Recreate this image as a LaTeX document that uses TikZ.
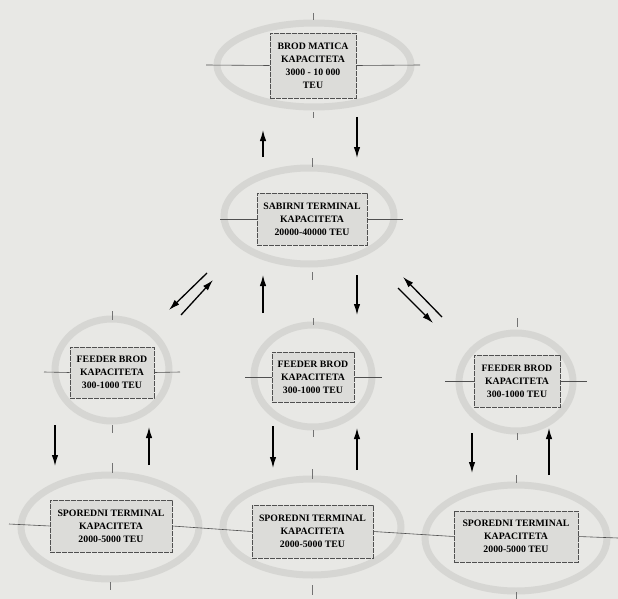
\documentclass[tikz,border=0pt]{standalone}
\usepackage{fontspec}
\setmainfont{Liberation Serif}
\usetikzlibrary{arrows.meta,calc}
\definecolor{bgc}{HTML}{E8E8E5}
\definecolor{ringc}{HTML}{D6D6D3}
\definecolor{boxc}{HTML}{DCDCD9}
\definecolor{linec}{HTML}{505050}
\tikzset{
  ring/.style={draw=ringc,line width=7pt},
  infobox/.style={rectangle,draw=linec,fill=boxc,line width=0.6pt,
    dash pattern=on 5pt off 1pt,inner sep=0pt,align=center,
    font=\fontsize{9.8}{13}\selectfont\bfseries,text=black},
  cross/.style={draw=linec,line width=0.6pt},
  tick/.style={draw=linec!80,line width=0.6pt},
  flow/.style={draw=black,line width=1.3pt,-{Latex[length=11pt,width=6.5pt]}}
}
\begin{document}
\begin{tikzpicture}[x=1pt,y=-1pt]
\fill[bgc] (0,0) rectangle (618,599);
\useasboundingbox (0,0) rectangle (618,599);

% ---------- ellipses (rings) ----------
\draw[ring] (314,65) ellipse [x radius=97,y radius=42];
\draw[ring] (309,216) ellipse [x radius=85,y radius=48];
\draw[ring] (112,370) ellipse [x radius=57,y radius=51];
\draw[ring] (313,376) ellipse [x radius=59,y radius=51];
\draw[ring] (516,382) ellipse [x radius=57,y radius=49];
\draw[ring] (110,527) ellipse [x radius=89,y radius=52];
\draw[ring] (312,527) ellipse [x radius=89,y radius=48];
\draw[ring] (516,538) ellipse [x radius=91,y radius=53];

% ---------- boxes ----------
\node[infobox,minimum width=86pt,minimum height=65pt] (top) at (313,65.5)
  {BROD MATICA\\KAPACITETA\\3000 - 10 000\\TEU};
\node[infobox,minimum width=110pt,minimum height=52pt] (sab) at (312,219)
  {SABIRNI TERMINAL\\KAPACITETA\\20000-40000 TEU};
\node[infobox,minimum width=84pt,minimum height=51pt] (fl) at (112,372.5)
  {FEEDER BROD\\KAPACITETA\\300-1000 TEU};
\node[infobox,minimum width=82pt,minimum height=50pt] (fm) at (313,377)
  {FEEDER BROD\\KAPACITETA\\300-1000 TEU};
\node[infobox,minimum width=86pt,minimum height=52pt] (fr) at (517,381)
  {FEEDER BROD\\KAPACITETA\\300-1000 TEU};
\node[infobox,minimum width=122pt,minimum height=52pt] (sl) at (111,526)
  {SPOREDNI TERMINAL\\KAPACITETA\\2000-5000 TEU};
\node[infobox,minimum width=121pt,minimum height=53pt] (sm) at (312.5,531.5)
  {SPOREDNI TERMINAL\\KAPACITETA\\2000-5000 TEU};
\node[infobox,minimum width=124pt,minimum height=51pt] (sr) at (516,536.5)
  {SPOREDNI TERMINAL\\KAPACITETA\\2000-5000 TEU};

% ---------- cross lines ----------
\coordinate (topL) at (206,65);  \coordinate (topR) at (420,65);
\coordinate (sabL) at (220,219); \coordinate (sabR) at (403,219);
\coordinate (flL) at (44,372);   \coordinate (flR) at (180,372);
\coordinate (fmL) at (245,377);  \coordinate (fmR) at (382,377);
\coordinate (frL) at (445,381);  \coordinate (frR) at (587,381);
\coordinate (slL) at (9,524);    \coordinate (srR) at (618,538);
\draw[cross] (topL) -- (top.west);  \draw[cross] (top.east) -- (topR);
\draw[cross] (sabL) -- (sab.west);  \draw[cross] (sab.east) -- (sabR);
\draw[cross] (flL) -- (fl.west);    \draw[cross] (fl.east) -- (flR);
\draw[cross] (fmL) -- (fm.west);    \draw[cross] (fm.east) -- (fmR);
\draw[cross] (frL) -- (fr.west);    \draw[cross] (fr.east) -- (frR);
\draw[cross] (slL) -- (sl.west);
\draw[cross] (sl.east) -- (sm.west);
\draw[cross] (sm.east) -- (sr.west);
\draw[cross] (sr.east) -- (srR);

% ---------- ticks ----------
\draw[tick] (313,13) -- (313,20);   \draw[tick] (313,112) -- (313,118);
\draw[tick] (312,158) -- (312,167); \draw[tick] (312,272) -- (312,280);
\draw[tick] (112,311) -- (112,320); \draw[tick] (112,425) -- (112,433);
\draw[tick] (313,318) -- (313,325); \draw[tick] (313,430) -- (313,437);
\draw[tick] (517,318) -- (517,327); \draw[tick] (517,433) -- (517,440);
\draw[tick] (112,463) -- (112,473); \draw[tick] (110,582) -- (110,590);
\draw[tick] (312,469) -- (312,479); \draw[tick] (312,585) -- (312,595);
\draw[tick] (516,475) -- (516,483); \draw[tick] (516,592) -- (516,599);

% ---------- arrow end points ----------
\coordinate (a1s) at (263,157); \coordinate (a1e) at (263,130);
\coordinate (a2s) at (357,117); \coordinate (a2e) at (357,158);
\coordinate (a3s) at (263,313); \coordinate (a3e) at (263,275);
\coordinate (a4s) at (357,275); \coordinate (a4e) at (357,315);
\coordinate (a5s) at (207,273); \coordinate (a5e) at (169,310);
\coordinate (a6s) at (181,315); \coordinate (a6e) at (213,280);
\coordinate (a7s) at (442,317); \coordinate (a7e) at (403,277);
\coordinate (a8s) at (398,288); \coordinate (a8e) at (433,323);
\coordinate (b1s) at (55,425);  \coordinate (b1e) at (55,466);
\coordinate (b2s) at (149,465); \coordinate (b2e) at (149,427);
\coordinate (b3s) at (273,426); \coordinate (b3e) at (273,468);
\coordinate (b4s) at (357,470); \coordinate (b4e) at (357,428);
\coordinate (b5s) at (472,433); \coordinate (b5e) at (472,473);
\coordinate (b6s) at (549,475); \coordinate (b6e) at (549,428);

\foreach \p in {a1,a2,a3,a4,a5,a6,a7,a8,b1,b2,b3,b4,b5,b6}
  \draw[flow] (\p s) -- (\p e);
\end{tikzpicture}
\end{document}
